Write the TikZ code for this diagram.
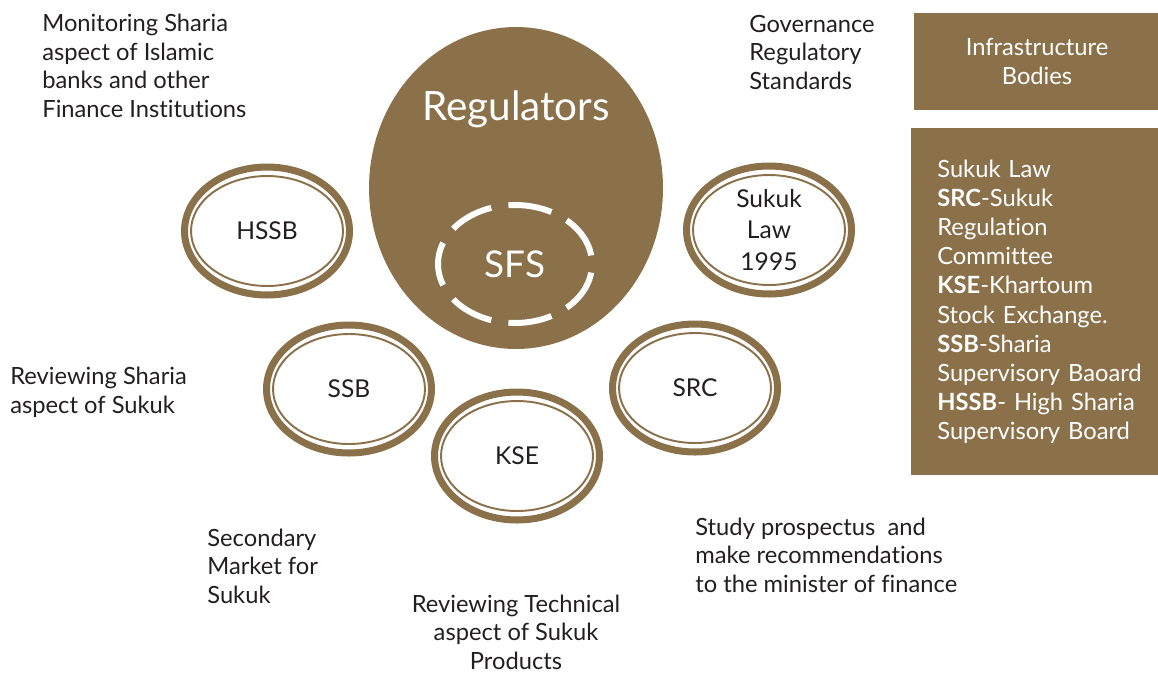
\documentclass[tikz,border=0pt]{standalone}
\usepackage{fontspec}
\setmainfont{Lato}[Ligatures=NoCommon]
\usepackage{tikz}
\usetikzlibrary{shapes.geometric, positioning}
\definecolor{khaki}{RGB}{139,113,74}
\definecolor{ink}{RGB}{35,31,32}
\tikzset{
  hub/.style={ellipse, fill=khaki, minimum width=5.88cm, minimum height=6.44cm,
              inner sep=0pt},
  hubtxt/.style={text=white, inner sep=0pt, font=\fontsize{23}{27}\selectfont},
  core/.style={ellipse, draw=white, line width=3.4pt,
               dash pattern=on 25pt off 9.9pt, dash phase=30pt,
               minimum width=3.08cm, minimum height=2.36cm,
               text=white, font=\fontsize{21}{25}\selectfont},
  ring/.style={ellipse, draw=khaki, line width=4pt, fill=white,
               minimum width=3.3cm, minimum height=2.56cm, inner sep=0pt,
               align=center, text=ink, font=\fontsize{14}{18}\selectfont},
  inring/.style={ellipse, draw=khaki, line width=1.1pt,
                 minimum width=3.04cm, minimum height=2.2cm, inner sep=0pt},
  note/.style={anchor=base west, inner sep=0pt, align=left, text=ink,
               font=\fontsize{13.5}{16.2}\selectfont},
  panel/.style={rectangle, fill=khaki, text=white, inner sep=0pt,
                font=\fontsize{13.5}{16.6}\selectfont},
}

\begin{document}
\begin{tikzpicture}[x=0.02cm, y=-0.02cm]
  \useasboundingbox (0,0) rectangle (1158,673);
  % central body
  \node[hub] (reg) at (516,188) {};
  \node[hubtxt, anchor=base] (regtxt) at (516,120) {Regulators};
  \node[core] (sfs) at (515,264) {SFS};

  % bodies around it
  \foreach \nm/\cx/\cy/\txt in {hssb/267/231/HSSB, law/769/230/{Sukuk\\Law\\1995},
                               ssb/349/389/SSB, src/695/388/SRC, kse/517/456/KSE} {
    \node[ring] (\nm) at (\cx,\cy) {\txt};
    \node[inring] (\nm-in) at (\nm.center) {};
  }

  % roles (placed by the baseline of their last line)
  \node[note] (n-hssb) at (42,117)
    {Monitoring Sharia\\aspect of Islamic\\banks and other\\Finance Institutions};
  \node[note] (n-law) at (749,89) {Governance\\Regulatory\\Standards};
  \node[note] (n-ssb) at (10,413) {Reviewing Sharia\\aspect of Sukuk};
  \node[note] (n-kse) at (207,603) {Secondary\\Market for\\Sukuk};
  \node[note, anchor=base, align=center] (n-tech) at (516,669)
    {Reviewing Technical\\aspect of Sukuk\\Products};
  \node[note] (n-src) at (695,592)
    {Study prospectus\ \ and\\make recommendations\\to the minister of finance};

  % key
  \node[panel, minimum width=4.92cm, minimum height=1.94cm, align=center] (infra)
    at (1037,61.5) {Infrastructure\\Bodies};
  \node[panel, anchor=north west, text width=4.3cm, inner xsep=0.52cm,
        minimum height=6.94cm, align=left] (legend) at (911,128)
    {Sukuk Law\\\textbf{SRC}-Sukuk\\Regulation\\Committee\\\textbf{KSE}-Khartoum\\
     Stock Exchange.\\\textbf{SSB}-Sharia\\Supervisory Baoard\\
     \textbf{HSSB}- High Sharia\\Supervisory Board};
\end{tikzpicture}
\end{document}
